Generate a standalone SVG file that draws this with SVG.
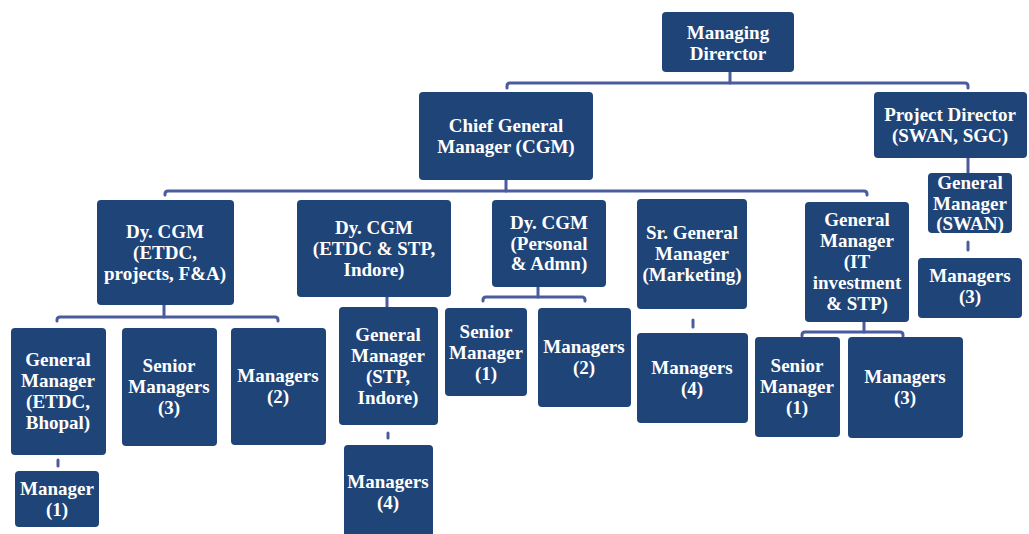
<svg xmlns="http://www.w3.org/2000/svg" width="1029" height="534" viewBox="0 0 1029 534">
<style>
.box{fill:#1f4477;}
.t{fill:#ffffff;font-family:'Liberation Serif','Times New Roman','DejaVu Serif',serif;font-weight:700;font-size:19px;text-anchor:middle;}
.c{fill:none;stroke:#4b5c9e;stroke-width:3;stroke-linecap:round;stroke-linejoin:round;}
</style>
<rect width="1029" height="534" fill="#ffffff"/>
<g id="connectors">
<path class="c" d="M730,72 V83"/>
<path class="c" d="M507,88 V86 Q507,83 510,83 H965 Q968,83 968,86 V88"/>
<path class="c" d="M506,180 V191"/>
<path class="c" d="M165,195 V194 Q165,191 168,191 H864 Q867,191 867,194 V195"/>
<path class="c" d="M164,305 V317"/>
<path class="c" d="M57,321 V320 Q57,317 60,317 H275 Q278,317 278,320 V321"/>
<path class="c" d="M387,297 V307"/>
<path class="c" d="M388,433 V438"/>
<path class="c" d="M58,460 V466"/>
<path class="c" d="M538,287 V297"/>
<path class="c" d="M483,301 V300 Q483,297 486,297 H582 Q585,297 585,300 V301"/>
<path class="c" d="M693,320 V327"/>
<path class="c" d="M864,322 V332"/>
<path class="c" d="M802,336 V335 Q802,332 805,332 H900 Q903,332 903,335 V336"/>
<path class="c" d="M968,158 V173"/>
<path class="c" d="M968,242 V250"/>
</g>
<g id="md"><rect class="box" x="662" y="12" width="132" height="60" rx="4"/><text class="t" x="728" y="39">Managing</text><text class="t" x="728" y="60">Direrctor</text></g>
<g id="cgm"><rect class="box" x="419" y="92" width="174" height="88" rx="4"/><text class="t" x="506" y="132">Chief General</text><text class="t" x="506" y="153">Manager (CGM)</text></g>
<g id="pd"><rect class="box" x="874" y="92" width="153" height="66" rx="4"/><text class="t" x="950" y="121">Project Director</text><text class="t" x="950" y="142">(SWAN, SGC)</text></g>
<g id="gm-swan"><rect class="box" x="928" y="173" width="84" height="60" rx="4"/><text class="t" x="970" y="189">General</text><text class="t" x="970" y="210">Manager</text><text class="t" x="970" y="230">(SWAN)</text></g>
<g id="mgr3-swan"><rect class="box" x="918" y="258" width="104" height="60" rx="4"/><text class="t" x="970" y="282">Managers</text><text class="t" x="970" y="303">(3)</text></g>
<g id="dycgm-etdc"><rect class="box" x="97" y="200" width="137" height="105" rx="4"/><text class="t" x="165" y="238">Dy. CGM</text><text class="t" x="165" y="259">(ETDC,</text><text class="t" x="165" y="280">projects, F&amp;A)</text></g>
<g id="dycgm-stp"><rect class="box" x="297" y="200" width="154" height="97" rx="4"/><text class="t" x="374" y="234">Dy. CGM</text><text class="t" x="374" y="255">(ETDC &amp; STP,</text><text class="t" x="374" y="276">Indore)</text></g>
<g id="dycgm-admn"><rect class="box" x="492" y="200" width="114" height="87" rx="4"/><text class="t" x="549" y="229">Dy. CGM</text><text class="t" x="549" y="250">(Personal</text><text class="t" x="549" y="270">&amp; Admn)</text></g>
<g id="sgm-mkt"><rect class="box" x="637" y="199" width="110" height="110" rx="4"/><text class="t" x="692" y="239">Sr. General</text><text class="t" x="692" y="260">Manager</text><text class="t" x="692" y="281">(Marketing)</text></g>
<g id="gm-it"><rect class="box" x="805" y="202" width="104" height="120" rx="4"/><text class="t" x="857" y="226">General</text><text class="t" x="857" y="247">Manager</text><text class="t" x="857" y="268">(IT</text><text class="t" x="857" y="289">investment</text><text class="t" x="857" y="310">&amp; STP)</text></g>
<g id="gm-bhopal"><rect class="box" x="11" y="328" width="95" height="127" rx="4"/><text class="t" x="58" y="366">General</text><text class="t" x="58" y="387">Manager</text><text class="t" x="58" y="408">(ETDC,</text><text class="t" x="58" y="429">Bhopal)</text></g>
<g id="sm3-etdc"><rect class="box" x="122" y="328" width="95" height="118" rx="4"/><text class="t" x="169" y="372">Senior</text><text class="t" x="169" y="393">Managers</text><text class="t" x="169" y="414">(3)</text></g>
<g id="mgr2-etdc"><rect class="box" x="231" y="328" width="95" height="117" rx="4"/><text class="t" x="278" y="382">Managers</text><text class="t" x="278" y="403">(2)</text></g>
<g id="gm-stp"><rect class="box" x="339" y="307" width="99" height="118" rx="4"/><text class="t" x="388" y="341">General</text><text class="t" x="388" y="362">Manager</text><text class="t" x="388" y="383">(STP,</text><text class="t" x="388" y="404">Indore)</text></g>
<g id="sm1-admn"><rect class="box" x="445" y="308" width="82" height="88" rx="4"/><text class="t" x="486" y="338">Senior</text><text class="t" x="486" y="359">Manager</text><text class="t" x="486" y="380">(1)</text></g>
<g id="mgr2-admn"><rect class="box" x="538" y="308" width="93" height="99" rx="4"/><text class="t" x="584" y="353">Managers</text><text class="t" x="584" y="374">(2)</text></g>
<g id="mgr4-mkt"><rect class="box" x="637" y="333" width="111" height="90" rx="4"/><text class="t" x="692" y="374">Managers</text><text class="t" x="692" y="395">(4)</text></g>
<g id="sm1-it"><rect class="box" x="755" y="337" width="85" height="100" rx="4"/><text class="t" x="797" y="372">Senior</text><text class="t" x="797" y="393">Manager</text><text class="t" x="797" y="414">(1)</text></g>
<g id="mgr3-it"><rect class="box" x="848" y="337" width="115" height="101" rx="4"/><text class="t" x="905" y="383">Managers</text><text class="t" x="905" y="404">(3)</text></g>
<g id="mgr1-bhopal"><rect class="box" x="15" y="471" width="84" height="56" rx="4"/><text class="t" x="57" y="495">Manager</text><text class="t" x="57" y="516">(1)</text></g>
<g id="mgr4-stp"><rect class="box" x="344" y="445" width="89" height="100" rx="4"/><text class="t" x="388" y="488">Managers</text><text class="t" x="388" y="509">(4)</text></g>
</svg>
